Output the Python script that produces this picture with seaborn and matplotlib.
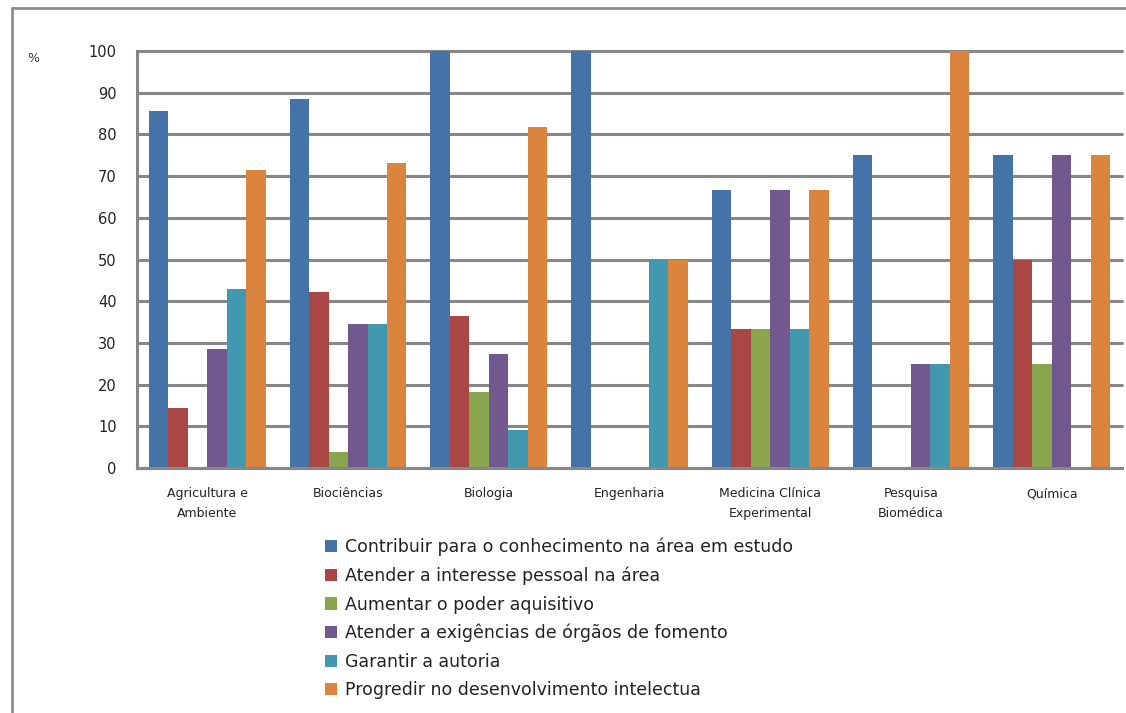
import matplotlib
matplotlib.use("Agg")
import matplotlib.pyplot as plt
from matplotlib.lines import Line2D
import seaborn as sns
import pandas as pd

areas = ["Agricultura e\nAmbiente", "Biociências", "Biologia", "Engenharia",
         "Medicina Clínica\nExperimental", "Pesquisa\nBiomédica", "Química"]

motivos = [
    "Contribuir para o conhecimento na área em estudo",
    "Atender a interesse pessoal na área",
    "Aumentar o poder aquisitivo",
    "Atender a exigências de órgãos de fomento",
    "Garantir a autoria",
    "Progredir no desenvolvimento intelectua",
]

contribuir = [85.7, 88.5, 100.0, 100.0, 66.7, 75.0, 75.0]
interesse = [14.3, 42.3, 36.4, 0.0, 33.3, 0.0, 50.0]
poder_aquisitivo = [0.0, 3.8, 18.2, 0.0, 33.3, 0.0, 25.0]
exigencias = [28.6, 34.6, 27.3, 0.0, 66.7, 25.0, 75.0]
autoria = [42.9, 34.6, 9.1, 50.0, 33.3, 25.0, 0.0]
intelectual = [71.4, 73.1, 81.8, 50.0, 66.7, 100.0, 75.0]

series = [contribuir, interesse, poder_aquisitivo, exigencias, autoria, intelectual]
cores = ["#4572A7", "#AA4643", "#89A54E", "#71588F", "#4198AF", "#DB843D"]

rows = []
for motivo, valores in zip(motivos, series):
    for area, v in zip(areas, valores):
        rows.append({"area": area, "motivo": motivo, "valor": v})
df = pd.DataFrame(rows)

sns.set_theme(style="white")
plt.rcParams["font.family"] = ["DejaVu Sans"]

fig = plt.figure(figsize=(11.26, 7.13), dpi=100)
ax = fig.add_axes([137 / 1126, 1 - 468 / 713, (1122 - 137) / 1126, (468 - 51) / 713])

sns.barplot(data=df, x="area", y="valor", hue="motivo", hue_order=motivos,
            order=areas, palette=cores, width=0.83, saturation=1,
            linewidth=0, ax=ax, legend=True)

grid_col = "#878787"
ax.set_ylim(0, 100)
ax.set_xlim(-0.5, len(areas) - 0.5)
ax.set_yticks(range(0, 101, 10))
ax.yaxis.grid(True, color=grid_col, linewidth=2.2)
for gl in ax.yaxis.get_gridlines():
    gl.set_clip_on(False)
ax.set_axisbelow(True)
for s in ["top", "right"]:
    ax.spines[s].set_visible(False)
for s in ["left", "bottom"]:
    ax.spines[s].set_color(grid_col)
    ax.spines[s].set_linewidth(2.2)

ax.set_xlabel("")
ax.set_ylabel("")
ax.tick_params(axis="x", which="major", length=0, pad=14, labelsize=9, colors="#222222")
for lbl in ax.get_xticklabels():
    lbl.set_linespacing(1.65)
ax.set_xticks([i - 0.5 for i in range(len(areas) + 1)], minor=True)
ax.tick_params(axis="x", which="minor", length=5, width=2, color=grid_col, direction="out")
ax.tick_params(axis="y", length=5, width=2, color=grid_col, direction="out",
               labelsize=10.5, pad=9.5, labelcolor="#222222")

fig.text(33 / 1126, 1 - 58 / 713, "%", fontsize=9, ha="center", va="center", color="#333333")

handles, labels = ax.get_legend_handles_labels()
ax.get_legend().remove()
fig.legend(handles, labels, loc="upper left", bbox_to_anchor=(316 / 1126, 1 - 529 / 713),
           frameon=False, fontsize=12.5, handlelength=0.7, handleheight=0.7,
           handletextpad=0.45, labelspacing=0.6, borderpad=0, labelcolor="#222222")

frame_col = "#8e8e8e"
fig.add_artist(Line2D([12 / 1126, 12 / 1126], [0, 1 - 8 / 713], transform=fig.transFigure,
                      color=frame_col, linewidth=2))
fig.add_artist(Line2D([12 / 1126, 1], [1 - 8 / 713, 1 - 8 / 713], transform=fig.transFigure,
                      color=frame_col, linewidth=2))

fig.savefig("out.png", dpi=100)
